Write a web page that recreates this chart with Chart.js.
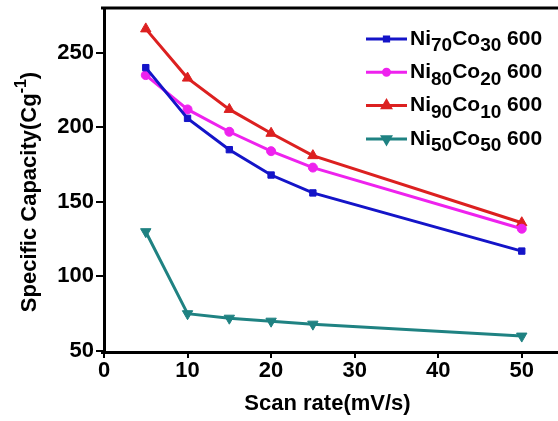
<!DOCTYPE html>
<html lang="en">
<head>
<meta charset="UTF-8">
<title>Specific Capacity vs Scan rate</title>
<script src="https://cdn.jsdelivr.net/npm/chart.js@4.4.1/dist/chart.umd.min.js"></script>
<style>
  body { margin: 0; background: #fff; }
  #wrap { width: 558px; height: 421px; }
</style>
</head>
<body>
<div id="wrap"><canvas id="capChart" width="558" height="421"></canvas></div>
<script>
// scan rate (mV/s) and capacity (C/g) per sample
const scanRates = [5, 10, 15, 20, 25, 50]
const ni70co30 = [240, 206, 185, 168, 156, 117]
const ni80co20 = [235, 212, 197, 184, 173, 132]
const ni90co10 = [266, 233, 212, 196, 181, 136]
const ni50co50 = [130, 75, 72, 70, 68, 60]

const niSub = ['70', '80', '90', '50']
const coSub = ['30', '20', '10', '50']
const tempLabel = '600'
const xTicks = [0, 10, 20, 30, 40, 50]
const yTicks = [50, 100, 150, 200, 250]

const FONT = 'Liberation Sans, Arial, sans-serif'

const series = [
    {values: ni70co30, color: '#1414c8', style: 'rect', radius: 4.5, rot: 0},
    {values: ni80co20, color: '#ee22ee', style: 'circle', radius: 4.5, rot: 0},
    {values: ni90co10, color: '#dc2020', style: 'triangle', radius: 6, rot: 0},
    {values: ni50co50, color: '#1f8282', style: 'triangle', radius: 6, rot: 180}
]

const datasets = series.map((s, i) => ({
    label: 'Ni' + niSub[i] + 'Co' + coSub[i] + ' ' + tempLabel,
    data: scanRates.map((x, j) => ({x: x, y: s.values[j]})),
    borderColor: s.color,
    backgroundColor: s.color,
    borderWidth: 3,
    pointStyle: s.style,
    pointRadius: s.radius,
    pointRotation: s.rot,
    pointBorderWidth: 1,
    tension: 0
}))

// top and bottom frame lines out to the canvas edge, legend with subscripts, y title with superscript
const extras = {
    id: 'extras',
    afterDraw(chart) {
        const ctx = chart.ctx
        const area = chart.chartArea
        ctx.save()
        ctx.strokeStyle = '#000'
        ctx.lineWidth = 3
        ctx.beginPath()
        ctx.moveTo(area.left - 3, area.top)
        ctx.lineTo(chart.width, area.top)
        ctx.moveTo(area.left - 3, area.bottom + 1.5)
        ctx.lineTo(chart.width, area.bottom + 1.5)
        ctx.stroke()

        // legend
        const x0 = 366, x1 = 407, tx = 410
        series.forEach((s, i) => {
            const y = 39 + i * 33.3
            ctx.strokeStyle = s.color
            ctx.lineWidth = 3
            ctx.beginPath()
            ctx.moveTo(x0, y)
            ctx.lineTo(x1, y)
            ctx.stroke()
            ctx.fillStyle = s.color
            Chart.helpers.drawPoint(ctx, {pointStyle: s.style, radius: s.radius - 1.5, rotation: s.rot, borderWidth: 1}, (x0 + x1) / 2, y)
            ctx.fill()

            ctx.fillStyle = '#000'
            ctx.textBaseline = 'middle'
            ctx.textAlign = 'left'
            let cx = tx
            const parts = [['Ni', 0], [niSub[i], 1], ['Co', 0], [coSub[i], 1], [' ' + tempLabel, 0]]
            parts.forEach(([t, sub]) => {
                ctx.font = sub ? 'bold 19px ' + FONT : 'bold 21px ' + FONT
                ctx.fillText(t, cx, sub ? y + 7 : y)
                cx += ctx.measureText(t).width
            })
        })

        // y axis title
        ctx.translate(30, area.top + 184)
        ctx.rotate(-Math.PI / 2)
        const main = 'Specific Capacity(Cg', sup = '-1', end = ')'
        ctx.font = 'bold 22px ' + FONT
        const w1 = ctx.measureText(main).width
        const w3 = ctx.measureText(end).width
        ctx.font = 'bold 16px ' + FONT
        const w2 = ctx.measureText(sup).width
        let px = -(w1 + w2 + w3) / 2
        ctx.fillStyle = '#000'
        ctx.textBaseline = 'middle'
        ctx.font = 'bold 22px ' + FONT
        ctx.fillText(main, px, 0)
        px += w1
        ctx.font = 'bold 16px ' + FONT
        ctx.fillText(sup, px, -8)
        px += w2
        ctx.font = 'bold 22px ' + FONT
        ctx.fillText(end, px, 0)
        ctx.restore()
    }
}

new Chart(document.getElementById('capChart'), {
    type: 'line',
    data: {datasets: datasets},
    options: {
        responsive: false,
        animation: false,
        layout: {padding: {top: 8, right: 0, left: 0, bottom: 0}},
        plugins: {legend: {display: false}, tooltip: {enabled: false}},
        scales: {
            x: {
                type: 'linear',
                min: 0,
                max: 53.5,
                afterBuildTicks: axis => { axis.ticks = xTicks.map(v => ({value: v})) },
                afterFit: axis => {
                    axis.height = 70
                    axis.paddingLeft = 0
                    axis.paddingRight = 0
                },
                ticks: {color: '#000', font: {family: FONT, size: 22, weight: 'bold'}, padding: 0},
                grid: {drawOnChartArea: false, tickLength: 7, color: '#000', lineWidth: 2},
                border: {display: false},
                title: {
                    display: true,
                    text: 'Scan rate(mV/s)',
                    color: '#000',
                    font: {family: FONT, size: 22, weight: 'bold'},
                    padding: {top: 0}
                }
            },
            y: {
                min: 50,
                max: 280,
                afterBuildTicks: axis => { axis.ticks = yTicks.map(v => ({value: v})) },
                afterFit: axis => {
                    axis.width = 104
                    axis.paddingTop = 0
                    axis.paddingBottom = 0
                },
                ticks: {color: '#000', font: {family: FONT, size: 22, weight: 'bold'}, padding: 2},
                grid: {drawOnChartArea: false, tickLength: 8, color: '#000', lineWidth: 2},
                border: {color: '#000', width: 3}
            }
        }
    },
    plugins: [extras]
})
</script>
</body>
</html>
